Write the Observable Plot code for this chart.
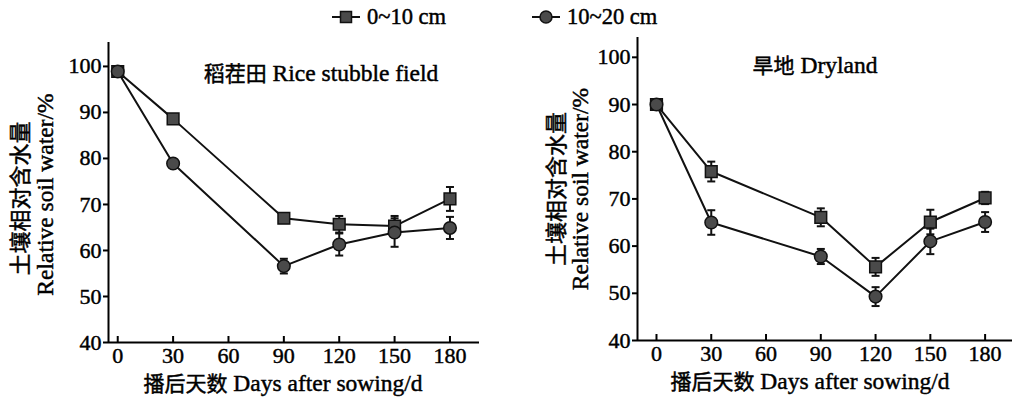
<!DOCTYPE html>
<html>
<head>
<meta charset="utf-8">
<script src="https://cdn.jsdelivr.net/npm/d3@7"></script>
<script src="https://cdn.jsdelivr.net/npm/@observablehq/plot@0.6"></script>
<style>
  html, body { margin: 0; padding: 0; background: #fff; }
  #root { position: relative; width: 1013px; height: 400px; overflow: hidden; font-family: 'Liberation Serif', 'Noto Sans CJK SC', serif; }
  .panel { position: absolute; top: 0; }
  .panel svg text { font-family: 'Liberation Serif', 'Noto Sans CJK SC', serif; stroke: #000; stroke-width: 0.45px; fill: #000; }
  .leg { position: absolute; top: 4px; display: flex; align-items: center; font-size: 22.5px; color: #000; white-space: nowrap; -webkit-text-stroke: 0.45px #000; }
  .leg svg { display: block; margin-right: 7px; }
</style>
</head>
<body>
<div id="root"></div>
<script>
// ---- data ----
const days = [0, 30, 90, 120, 150, 180];
const seriesNames = ["0~10 cm", "10~20 cm"];
const xTicks = [0, 30, 60, 90, 120, 150, 180];
const yTicks = [40, 50, 60, 70, 80, 90, 100];

const riceTop = [98.9, 88.6, 67.0, 65.7, 65.3, 71.2];
const riceTopErr = [0.4, 0.8, 0.5, 1.8, 2.2, 2.6];
const riceSub = [98.9, 78.9, 56.6, 61.3, 63.9, 64.9];
const riceSubErr = [0.3, 0.5, 1.6, 2.4, 3.1, 2.4];

const dryTop = [90.0, 75.8, 66.1, 55.6, 65.1, 70.2];
const dryTopErr = [0.4, 2.1, 1.9, 1.9, 2.6, 1.3];
const drySub = [90.0, 65.0, 57.8, 49.3, 61.0, 65.1];
const drySubErr = [0.3, 2.6, 1.6, 2.0, 2.7, 2.1];

const titleRice = "稻茬田 Rice stubble field";
const titleDry = "旱地 Dryland";
const xLabel = "播后天数 Days after sowing/d";
const yLabelCn = "土壤相对含水量";
const yLabelEn = "Relative soil water/%";

// ---- build ----
const FONT = "'Liberation Serif', 'Noto Sans CJK SC', serif";
const FILL = "#4a4a4a";
const INK = "#111";
const EN_SIZE = 23.5;
const CJK_SIZE = 21;

function rows(vals, errs, name) {
  return days.map((d, i) => ({day: d, v: vals[i], lo: vals[i] - errs[i], hi: vals[i] + errs[i], series: name}));
}

const capSymbol = {
  draw(ctx, size) {
    const w = Math.sqrt(size / Math.PI);
    ctx.moveTo(-w, 0);
    ctx.lineTo(w, 0);
  }
};

function panel(cfg) {
  const top = rows(cfg.top, cfg.topErr, seriesNames[0]);
  const sub = rows(cfg.sub, cfg.subErr, seriesNames[1]);
  const both = top.concat(sub);
  return Plot.plot({
    width: cfg.width, height: 400,
    marginLeft: cfg.ml, marginRight: cfg.mr, marginTop: cfg.mt, marginBottom: cfg.mb,
    style: {fontFamily: FONT, fontSize: "22px", color: "#000", background: "transparent", overflow: "visible"},
    x: {domain: cfg.xDomain},
    y: {domain: cfg.yDomain},
    marks: [
      Plot.axisX(xTicks, {tickSize: 0, tickPadding: 5, label: null, fontSize: 22}),
      Plot.axisY(yTicks, {tickSize: 5, tickPadding: 2, strokeWidth: 2, label: null, fontSize: 22}),
      Plot.tickX(xTicks, {x: d => d, stroke: "#000", strokeWidth: 2, insetTop: 400 - cfg.mt - cfg.mb - 6}),
      Plot.ruleX([cfg.xDomain[0]], {stroke: "#000", strokeWidth: 2}),
      Plot.ruleY([cfg.yDomain[0]], {stroke: "#000", strokeWidth: 2}),
      Plot.line(top, {x: "day", y: "v", stroke: INK, strokeWidth: 2}),
      Plot.line(sub, {x: "day", y: "v", stroke: INK, strokeWidth: 2}),
      Plot.ruleX(both, {x: "day", y1: "lo", y2: "hi", stroke: INK, strokeWidth: 2}),
      Plot.dot(both, {x: "day", y: "lo", symbol: capSymbol, r: 4, stroke: INK, strokeWidth: 2}),
      Plot.dot(both, {x: "day", y: "hi", symbol: capSymbol, r: 4, stroke: INK, strokeWidth: 2}),
      Plot.dot(top, {x: "day", y: "v", symbol: "square", r: 6.6, fill: FILL, stroke: INK, strokeWidth: 1.5}),
      Plot.dot(sub, {x: "day", y: "v", symbol: "circle", r: 6.3, fill: FILL, stroke: INK, strokeWidth: 1.5}),
      Plot.text([cfg.title], {frameAnchor: "top", dx: cfg.tdx, dy: cfg.tdy, lineAnchor: "middle", fontSize: EN_SIZE, fill: "#000"}),
      Plot.text([xLabel], {frameAnchor: "bottom", dx: cfg.xldx, dy: 41, lineAnchor: "middle", fontSize: EN_SIZE, fill: "#000"}),
      Plot.text([yLabelCn], {frameAnchor: "left", rotate: -90, dx: cfg.cnx, dy: cfg.cny, lineAnchor: "middle", textAnchor: "middle", fontSize: 22, fill: "#000"}),
      Plot.text([yLabelEn], {frameAnchor: "left", rotate: -90, dx: cfg.enx, dy: cfg.eny, lineAnchor: "middle", textAnchor: "middle", fontSize: EN_SIZE, fill: "#000"})
    ]
  });
}

// mixed-script labels: smaller CJK glyphs than Latin ones (as in the reference)
function sizeMixed(svg) {
  const cjk = /[\u3400-\u9fff]/;
  svg.querySelectorAll("text").forEach(t => {
    const s = t.textContent;
    if (!cjk.test(s) || !/[A-Za-z]/.test(s)) return;
    const runs = s.match(/[\u3400-\u9fff]+|[^\u3400-\u9fff]+/g);
    while (t.firstChild) t.removeChild(t.firstChild);
    runs.forEach(r => {
      const ts = document.createElementNS("http://www.w3.org/2000/svg", "tspan");
      ts.textContent = r;
      if (cjk.test(r)) ts.setAttribute("font-size", CJK_SIZE);
      t.appendChild(ts);
    });
  });
}

const root = document.getElementById("root");

const left = panel({
  width: 500, ml: 108, mr: 21, mt: 42, mb: 58,
  xDomain: [-5, 196], yDomain: [40, 105.2],
  top: riceTop, topErr: riceTopErr, sub: riceSub, subErr: riceSubErr,
  title: titleRice, tdx: 27, tdy: 31, xldx: -11,
  cnx: -88, cny: 6, enx: -63, eny: 2
});
const right = panel({
  width: 513, ml: 137, mr: 1, mt: 37, mb: 60,
  xDomain: [-10.4, 195], yDomain: [40, 104.2],
  top: dryTop, topErr: dryTopErr, sub: drySub, subErr: drySubErr,
  title: titleDry, tdx: -10, tdy: 28, xldx: -15,
  cnx: -81, cny: 0, enx: -57, eny: 0
});
sizeMixed(left); sizeMixed(right);

const wl = document.createElement("div"); wl.className = "panel"; wl.style.left = "0px"; wl.appendChild(left);
const wr = document.createElement("div"); wr.className = "panel"; wr.style.left = "500px"; wr.appendChild(right);
root.appendChild(wl); root.appendChild(wr);

// legend
function legendItem(x, name, shape) {
  const div = document.createElement("div");
  div.className = "leg";
  div.style.left = x + "px";
  const svg = d3.create("svg").attr("width", 28).attr("height", 16);
  svg.append("line").attr("x1", 0).attr("x2", 28).attr("y1", 8).attr("y2", 8).attr("stroke", INK).attr("stroke-width", 2);
  if (shape === "square") {
    svg.append("rect").attr("x", 8.5).attr("y", 2.5).attr("width", 11).attr("height", 11).attr("fill", FILL).attr("stroke", INK).attr("stroke-width", 1.5);
  } else {
    svg.append("circle").attr("cx", 14).attr("cy", 8).attr("r", 6).attr("fill", FILL).attr("stroke", INK).attr("stroke-width", 1.5);
  }
  div.appendChild(svg.node());
  const span = document.createElement("span");
  span.textContent = name;
  div.appendChild(span);
  root.appendChild(div);
}
legendItem(332, seriesNames[0], "square");
legendItem(532, seriesNames[1], "circle");
</script>
</body>
</html>
